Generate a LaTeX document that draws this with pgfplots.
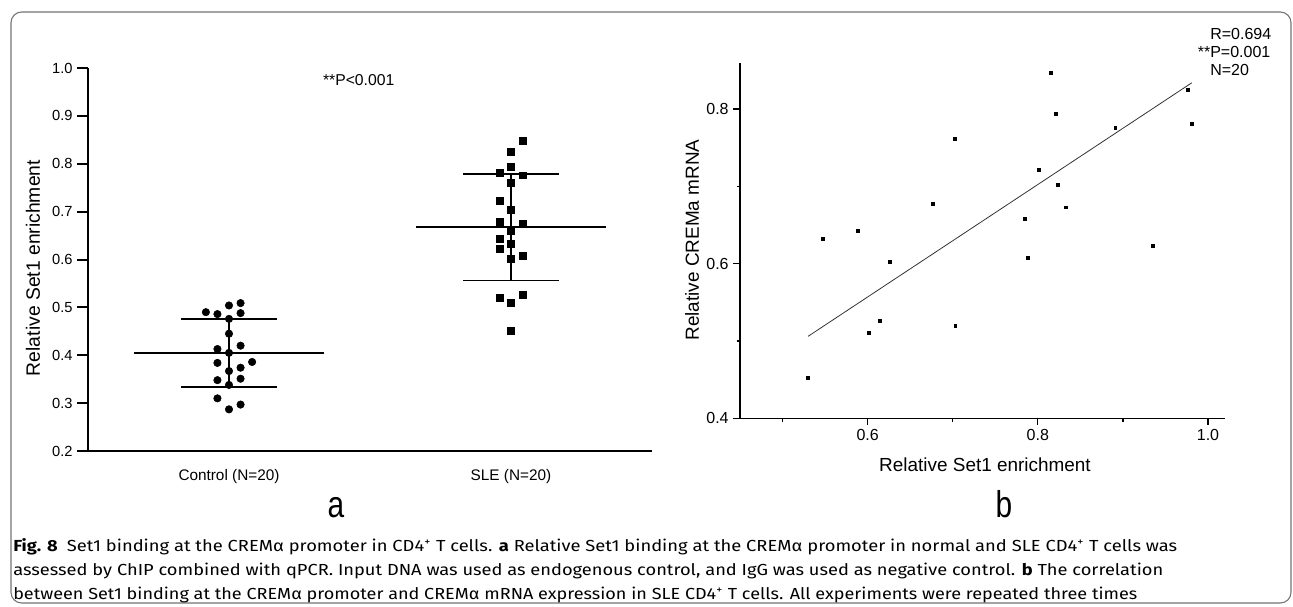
\documentclass[border=0pt]{standalone}
\usepackage{pgfplots}
\pgfplotsset{compat=1.18}
\usepackage{graphicx}
\usepackage{fontspec}
\setmainfont{Liberation Sans}
\newfontfamily\capfont{Fira Sans}

\begin{document}
\begin{tikzpicture}
\path[use as bounding box] (0,0) rectangle (969.75pt,-455.25pt);
\draw[black!55, line width=0.8pt, rounded corners=8pt] (8.25pt,-9pt) rectangle (968.25pt,-452.25pt);

% ---------------- panel a ----------------
\begin{axis}[
  at={(66pt,-338.25pt)}, anchor=south west,
  scale only axis, width=423pt, height=287.25pt,
  xmin=0.5, xmax=2.5, ymin=0.2, ymax=1.0,
  axis x line*=bottom, axis y line*=left,
  axis line style={line width=1.5pt, black},
  xtick={1,2}, xticklabels={Control (N=20), SLE (N=20)},
  x tick style={draw=none},
  xticklabel style={yshift=-2pt, font=\fontsize{11.5}{13}\selectfont},
  ytick={0.2,0.3,0.4,0.5,0.6,0.7,0.8,0.9,1.0},
  y tick style={line width=1.5pt, black},
  major tick length=8pt, tick align=outside,
  /pgf/number format/assume math mode=true,
  yticklabel style={font=\fontsize{11}{13}\selectfont, /pgf/number format/.cd, fixed, fixed zerofill, precision=1},
  clip=false,
]
\addplot[black, line width=1.3pt, mark=none] coordinates {(0.664,0.405) (1.336,0.405)};
\addplot[black, line width=1.3pt, mark=none] coordinates {(0.831,0.475) (1.169,0.475)};
\addplot[black, line width=1.3pt, mark=none] coordinates {(0.831,0.333) (1.169,0.333)};
\addplot[black, line width=1.3pt, mark=none] coordinates {(1,0.333) (1,0.475)};
\addplot[black, line width=1.3pt, mark=none] coordinates {(1.664,0.668) (2.336,0.668)};
\addplot[black, line width=1.3pt, mark=none] coordinates {(1.831,0.778) (2.169,0.778)};
\addplot[black, line width=1.3pt, mark=none] coordinates {(1.831,0.556) (2.169,0.556)};
\addplot[black, line width=1.3pt, mark=none] coordinates {(2,0.556) (2,0.778)};

\addplot[only marks, mark=*, mark size=2.8pt, black] coordinates {
(0.918,0.490) (0.959,0.486) (1.000,0.504) (1.041,0.509) (1.041,0.488)
(1.000,0.476) (1.000,0.445) (0.959,0.413) (1.041,0.420) (1.000,0.405)
(0.959,0.384) (1.082,0.386) (1.041,0.374) (1.000,0.367) (0.959,0.348)
(1.041,0.351) (1.000,0.338) (0.959,0.310) (1.041,0.297) (1.000,0.287)};

\addplot[only marks, mark=square*, mark size=2.6pt, black] coordinates {
(2.041,0.848) (2.000,0.825) (2.000,0.794) (1.959,0.782) (2.041,0.776)
(2.000,0.761) (1.959,0.722) (2.000,0.703) (1.959,0.678) (2.041,0.674)
(2.000,0.659) (1.959,0.643) (2.000,0.632) (1.959,0.623) (2.041,0.608)
(2.000,0.602) (1.959,0.521) (2.041,0.526) (2.000,0.510) (2.000,0.451)};

\node[font=\fontsize{11.8}{13}\selectfont] at (axis cs:1.46,0.975) {**P<0.001};
\end{axis}

\node[rotate=90, font=\fontsize{14.5}{16}\selectfont] at (24.75pt,-201pt) {Relative Set1 enrichment};

% ---------------- panel b ----------------
\begin{axis}[
  at={(555pt,-313.7pt)}, anchor=south west,
  scale only axis, width=363.75pt, height=266.7pt,
  xmin=0.45, xmax=1.02, ymin=0.4, ymax=0.86,
  axis x line*=bottom, axis y line*=left,
  axis line style={line width=1pt, black},
  xtick={0.6,0.8,1.0}, minor xtick={0.5,0.7,0.9},
  ytick={0.4,0.6,0.8}, minor ytick={0.5,0.7},
  tick style={line width=1pt, black},
  major tick length=5pt, minor tick length=2.6pt, tick align=outside,
  /pgf/number format/assume math mode=true,
  xticklabel style={font=\fontsize{12}{14}\selectfont, /pgf/number format/.cd, fixed, fixed zerofill, precision=1},
  yticklabel style={font=\fontsize{12}{14}\selectfont, /pgf/number format/.cd, fixed, fixed zerofill, precision=1},
  clip=false,
]
\addplot[black!80, line width=0.6pt, mark=none] coordinates {(0.530,0.506) (0.981,0.834)};
\addplot[only marks, mark=square*, mark size=1.1pt, black] coordinates {
(0.815,0.847) (0.976,0.825) (0.821,0.794) (0.891,0.776) (0.981,0.781)
(0.702,0.762) (0.801,0.722) (0.823,0.702) (0.677,0.677) (0.833,0.673)
(0.785,0.658) (0.588,0.642) (0.547,0.632) (0.935,0.623) (0.626,0.602)
(0.788,0.608) (0.614,0.526) (0.703,0.520) (0.601,0.511) (0.530,0.452)};
\end{axis}

\node[rotate=90, font=\fontsize{14.2}{16}\selectfont] at (519pt,-180pt) {Relative CREMa mRNA};
\node[font=\fontsize{14.2}{16}\selectfont] at (738.75pt,-348.75pt) {Relative Set1 enrichment};

\node[anchor=west, inner sep=0pt, font=\fontsize{12}{14}\selectfont] at (907.5pt,-25.5pt) {R=0.694};
\node[anchor=west, inner sep=0pt, font=\fontsize{12}{14}\selectfont] at (907.5pt,-39pt) {\llap{**}P=0.001};
\node[anchor=west, inner sep=0pt, font=\fontsize{12}{14}\selectfont] at (907.5pt,-52.5pt) {N=20};

% panel letters
\node[anchor=base, inner sep=0pt, font=\fontsize{28}{30}\selectfont] at (252pt,-387.75pt) {\scalebox{0.8}[1]{a}};
\node[anchor=base, inner sep=0pt, font=\fontsize{28}{30}\selectfont] at (753pt,-387.75pt) {\scalebox{0.8}[1]{b}};

% caption
\node[anchor=west, inner sep=0pt] at (9.75pt,-410.25pt) {\resizebox{873pt}{\height}{\capfont\fontsize{12}{14}\selectfont \textbf{Fig. 8}\enspace Set1 binding at the CREMα promoter in CD4\textsuperscript{+} T cells. \textbf{a} Relative Set1 binding at the CREMα promoter in normal and SLE CD4\textsuperscript{+} T cells was}};
\node[anchor=west, inner sep=0pt] at (9.75pt,-428.25pt) {\resizebox{862.5pt}{\height}{\capfont\fontsize{12}{14}\selectfont assessed by ChIP combined with qPCR. Input DNA was used as endogenous control, and IgG was used as negative control. \textbf{b} The correlation}};
\node[anchor=west, inner sep=0pt] at (9.75pt,-446.25pt) {\resizebox{843pt}{\height}{\capfont\fontsize{12}{14}\selectfont between Set1 binding at the CREMα promoter and CREMα mRNA expression in SLE CD4\textsuperscript{+} T cells. All experiments were repeated three times}};
\end{tikzpicture}
\end{document}
